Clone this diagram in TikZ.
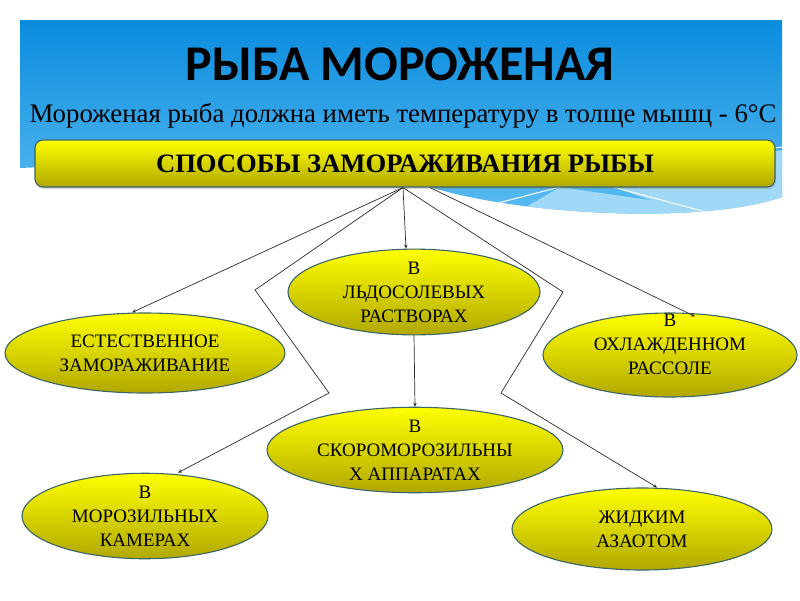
\documentclass[tikz,border=0pt]{standalone}
\usepackage{fontspec}
\setmainfont{Liberation Serif}
\newfontfamily\headfont{Carlito}
\usetikzlibrary{positioning, arrows.meta, shapes.geometric, shadows}
\definecolor{SkyTop}{RGB}{10,140,222}
\definecolor{SkyBottom}{RGB}{95,190,242}
\definecolor{SkyLight}{RGB}{160,216,248}
\definecolor{BoxTop}{RGB}{255,255,0}
\definecolor{BoxBottom}{RGB}{176,168,0}
\definecolor{EdgeGray}{RGB}{60,100,105}
\definecolor{LineGray}{RGB}{45,45,45}

\begin{document}
\begin{tikzpicture}[x=1pt, y=-1pt,
          method/.style={ellipse, draw=EdgeGray, line width=1.1pt, top color=BoxTop, bottom color=BoxBottom, inner sep=0pt, align=center, font=\fontsize{19}{24}\selectfont},
          link/.style={LineGray, line width=0.7pt},
          linkarrow/.style={link, -{Stealth[length=4pt, width=3.5pt]}}]
          \useasboundingbox (0,0) rectangle (800,600);
          \fill[white] (0,0) rectangle (800,600);
          \shade[top color=SkyTop, bottom color=SkyBottom] (20,20) -- (782,20) -- (782,197) .. controls (700,225) and (520,215) .. (430,187) .. controls (380,170) and (200,160) .. (20,168) -- cycle;
          \begin{scope}
            \clip (20,20) -- (782,20) -- (782,197) .. controls (700,225) and (520,215) .. (430,187) .. controls (380,170) and (200,160) .. (20,168) -- cycle;
            \fill[SkyLight] (470,240) -- (560,187) -- (782,150) -- (782,240) -- cycle;
            \fill[SkyBottom!85!SkyTop] (560,187) -- (613,187) -- (650,200) -- cycle;
            \draw[white, line width=1pt] (490,205) -- (560,187);
            \draw[white, line width=1pt] (613,187) -- (717,215);
            \draw[white, line width=1pt] (775,148) -- (782,147);
          \end{scope}
          \node[font=\headfont\bfseries\fontsize{50}{50}\selectfont] (title) at (400,64) {РЫБА МОРОЖЕНАЯ};
          \node[font=\fontsize{26.8}{30}\selectfont] (subtitle) at (403,116) {Мороженая рыба должна иметь температуру в толще мышц - 6°С};
          \node[rounded corners=8pt, draw=EdgeGray, line width=1.1pt, top color=BoxTop, bottom color=BoxBottom, drop shadow={opacity=0.3, shadow xshift=1pt, shadow yshift=-2pt}, minimum width=740, minimum height=47, font=\bfseries\fontsize{26.6}{30}\selectfont] (box) at (405,163.5) {СПОСОБЫ ЗАМОРАЖИВАНИЯ РЫБЫ};
          \node[method, minimum width=252, minimum height=80] (ice) at (414,292) {В\\ЛЬДОСОЛЕВЫХ\\РАСТВОРАХ};
          \node[method, minimum width=280, minimum height=80] (natural) at (145,353) {ЕСТЕСТВЕННОЕ\\ЗАМОРАЖИВАНИЕ};
          \node[method, minimum width=254, minimum height=84] (brine) at (670,355) {\raisebox{5pt}[0pt][0pt]{\begin{tabular}{@{}c@{}}В\\ОХЛАЖДЕННОМ\\РАССОЛЕ\end{tabular}}};
          \node[method, minimum width=296, minimum height=74] (fast) at (415,450) {В\\СКОРОМОРОЗИЛЬНЫ\\Х АППАРАТАХ};
          \node[method, minimum width=246, minimum height=82] (chamber) at (145,516) {В\\МОРОЗИЛЬНЫХ\\КАМЕРАХ};
          \node[method, minimum width=260, minimum height=82] (nitrogen) at (642,529) {ЖИДКИМ\\АЗАОТОМ};
          \coordinate (bendA) at (255,290);
          \coordinate (bendB) at (329,393);
          \coordinate (bendC) at (563,292);
          \coordinate (bendD) at (501,393);
          \draw[linkarrow] ([xshift=-2]box.south) -- ([xshift=-13]natural.north);
          \draw[linkarrow] ([xshift=-2]box.south) -- (bendA) -- (bendB) -- ([xshift=33]chamber.north);
          \draw[linkarrow] ([xshift=-2]box.south) -- ([xshift=-8]ice.north);
          \draw[linkarrow] (ice.south) -- (fast.north);
          \draw[linkarrow] ([xshift=-2]box.south) -- (bendC) -- (bendD) -- ([xshift=15]nitrogen.north);
          \draw[linkarrow] ([xshift=25]box.south) -- ([xshift=25,yshift=-4]brine.north);
        \end{tikzpicture}
\end{document}
